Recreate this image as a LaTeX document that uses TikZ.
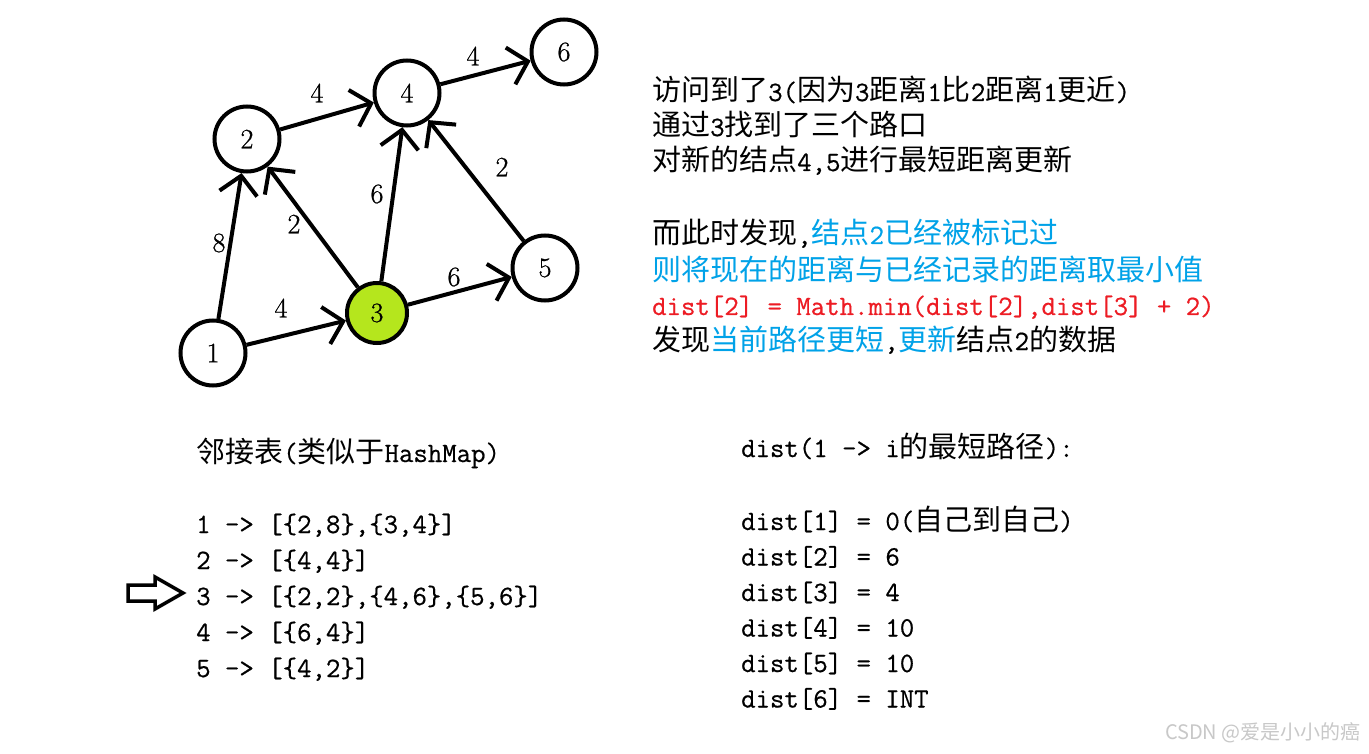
\documentclass[tikz,border=0pt]{standalone}
\usepackage{fontspec}
\usetikzlibrary{arrows.meta}
\setmonofont[FakeBold=0.6]{Latin Modern Mono}
\newfontfamily\numf[FakeBold=0.8]{Latin Modern Roman}
\newfontfamily\cjk{Noto Sans CJK SC}
\newcommand\zh[1]{{\cjk\fontsize{29}{35}\selectfont #1}}
\definecolor{skyb}{RGB}{0,162,232}
\definecolor{redc}{RGB}{237,28,36}
\definecolor{limec}{RGB}{181,230,29}
\definecolor{wmgray}{RGB}{200,200,200}
\tikzset{
  vtx/.style={circle, draw, line width=4pt, minimum size=65pt, inner sep=0pt, font=\numf\fontsize{28}{32}\selectfont},
  cur/.style={vtx, fill=limec, minimum size=60pt},
  edge/.style={line width=4pt, -{Straight Barb[length=18pt,width=38pt]}},
  wlab/.style={inner sep=0pt, font=\numf\fontsize{28}{32}\selectfont},
  txt/.style={anchor=base west, inner sep=0pt, font=\ttfamily\fontsize{28}{35}\selectfont}
}
\begin{document}
\begin{tikzpicture}[x=1pt,y=-1pt]
\path[use as bounding box, fill=white] (0,0) rectangle (1369,754);
% graph
\node[vtx] (n1) at (213,353) {1};
\node[vtx] (n2) at (247,139) {2};
\node[cur] (n3) at (377,313) {3};
\node[vtx] (n4) at (407,93) {4};
\node[vtx] (n5) at (545,268) {5};
\node[vtx] (n6) at (564,52) {6};
\draw[edge] (n1) -- (n2);
\draw[edge] (n1) -- (n3);
\draw[edge] (n2) -- (n4);
\draw[edge] (n3) -- (n2);
\draw[edge] (n3) -- (n4);
\draw[edge] (n3) -- (n5);
\draw[edge] (n5) -- (n4);
\draw[edge] (n4) -- (n6);
\node[wlab] (w46) at (473,56) {4};
\node[wlab] (w24) at (317,93) {4};
\node[wlab] (w32) at (294,224) {2};
\node[wlab] (w34) at (377,194) {6};
\node[wlab] (w54) at (502,167) {2};
\node[wlab] (w12) at (219,243) {8};
\node[wlab] (w13) at (281,308) {4};
\node[wlab] (w35) at (454,277) {6};
% right text block
\node[txt] (r1) at (652,101) {\zh{访问到了}3(\zh{因为}3\zh{距离}1\zh{比}2\zh{距离}1\zh{更近})};
\node[txt] (r2) at (652,136) {\zh{通过}3\zh{找到了三个路口}};
\node[txt] (r3) at (652,171) {\zh{对新的结点}4,5\zh{进行最短距离更新}};
\node[txt] (r4) at (652,244) {\zh{而此时发现},\textcolor{skyb}{\zh{结点}2\zh{已经被标记过}}};
\node[txt, text=skyb] (r5) at (652,280) {\zh{则将现在的距离与已经记录的距离取最小值}};
\node[txt, text=redc] (r6) at (652,315) {dist[2] = Math.min(dist[2],dist[3] + 2)};
\node[txt] (r7) at (652,350) {\zh{发现}\textcolor{skyb}{\zh{当前路径更短}},\textcolor{skyb}{\zh{更新}}\zh{结点}2\zh{的数据}};
% adjacency list
\node[txt] (a0) at (196,462) {\zh{邻接表}(\zh{类似于}HashMap)};
\node[txt] (a1) at (196,533) {1 -> [\{2,8\},\{3,4\}]};
\node[txt] (a2) at (196,569) {2 -> [\{4,4\}]};
\node[txt] (a3) at (196,605) {3 -> [\{2,2\},\{4,6\},\{5,6\}]};
\node[txt] (a4) at (196,641) {4 -> [\{6,4\}]};
\node[txt] (a5) at (196,677) {5 -> [\{4,2\}]};
\draw[line width=3.5pt, line join=miter] (128,585) -- (155,585) -- (155,577) -- (183,593) -- (155,609) -- (155,601) -- (128,601) -- cycle;
% dist block
\node[txt] (d0) at (741,457) {dist(1 -> i\zh{的最短路径}):};
\node[txt] (d1) at (741,530) {dist[1] = 0(\zh{自己到自己})};
\node[txt] (d2) at (741,565.5) {dist[2] = 6};
\node[txt] (d3) at (741,601) {dist[3] = 4};
\node[txt] (d4) at (741,636.5) {dist[4] = 10};
\node[txt] (d5) at (741,672) {dist[5] = 10};
\node[txt] (d6) at (741,707.5) {dist[6] = INT};
% watermark
\node[anchor=base east, inner sep=0pt, text=wmgray, font=\cjk\fontsize{20}{24}\selectfont] (wm) at (1361,739) {CSDN @爱是小小的癌};
\end{tikzpicture}
\end{document}
